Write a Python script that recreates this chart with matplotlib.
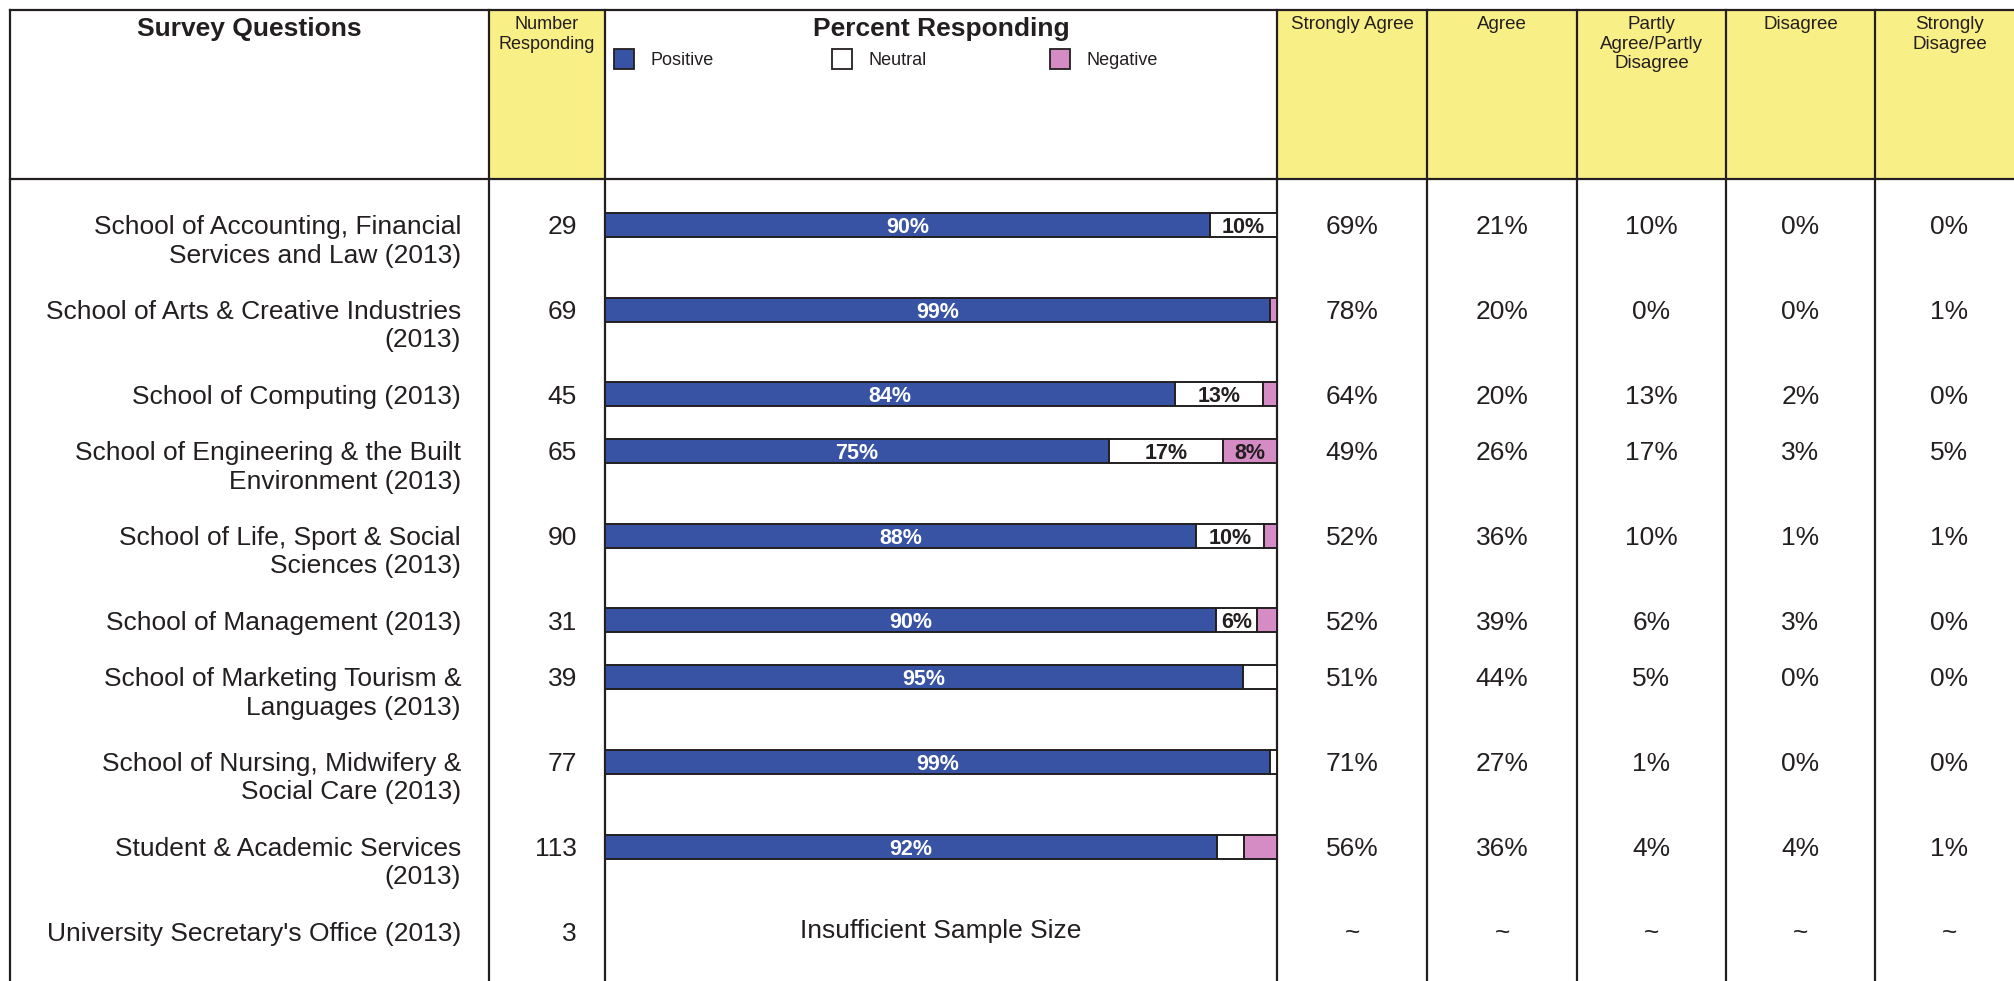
import matplotlib.pyplot as plt
from matplotlib.patches import Rectangle

# Survey results per unit
units = [
    "School of Accounting, Financial\nServices and Law (2013)",
    "School of Arts & Creative Industries\n(2013)",
    "School of Computing (2013)",
    "School of Engineering & the Built\nEnvironment (2013)",
    "School of Life, Sport & Social\nSciences (2013)",
    "School of Management (2013)",
    "School of Marketing Tourism &\nLanguages (2013)",
    "School of Nursing, Midwifery &\nSocial Care (2013)",
    "Student & Academic Services\n(2013)",
    "University Secretary's Office (2013)",
]
respondents = [29, 69, 45, 65, 90, 31, 39, 77, 113, 3]
positive = [90, 99, 84, 75, 88, 90, 95, 99, 92, None]
neutral = [10, 0, 13, 17, 10, 6, 5, 1, 4, None]
negative = [0, 1, 2, 8, 2, 3, 0, 0, 5, None]

strongly_agree = [69, 78, 64, 49, 52, 52, 51, 71, 56, None]
agree = [21, 20, 20, 26, 36, 39, 44, 27, 36, None]
partly = [10, 0, 13, 17, 10, 6, 5, 1, 4, None]
disagree = [0, 0, 2, 3, 1, 3, 0, 0, 4, None]
strongly_disagree = [0, 1, 0, 5, 1, 0, 0, 0, 1, None]

answer_headers = ["Strongly Agree", "Agree", "Partly\nAgree/Partly\nDisagree",
                  "Disagree", "Strongly\nDisagree"]
answer_cols = [strongly_agree, agree, partly, disagree, strongly_disagree]

W, H = 2014, 981
INK = "#231f20"
YELLOW = "#f9ef87"
BLUE = "#3853a4"
PINK = "#d58bc3"
FONT = ["Liberation Sans", "DejaVu Sans"]

plt.rcParams["font.family"] = FONT
plt.rcParams["text.color"] = INK

fig = plt.figure(figsize=(W / 100, H / 100), dpi=100)
ax = fig.add_axes([0, 0, 1, 1])
ax.set_xlim(0, W)
ax.set_ylim(H, 0)
ax.axis("off")

# column edges (pixels)
x_left, x_num, x_bar, x_sa = 10, 489, 605, 1277
x_ans = [1277, 1427, 1577, 1726, 1875, 2024]
top, head_bot = 10, 178.5

# yellow header cells
for xa, xb in [(x_num, x_bar)] + list(zip(x_ans[:-1], x_ans[1:])):
    ax.add_patch(Rectangle((xa, top), xb - xa, head_bot - top,
                           facecolor=YELLOW, edgecolor="none", zorder=0))

lw = 1.6
for x in [x_left, x_num, x_bar] + x_ans[:-1]:
    ax.plot([x, x], [top, H], color=INK, lw=lw, zorder=3)
for y in [top, head_bot]:
    ax.plot([x_left, W], [y, y], color=INK, lw=lw, zorder=3)

# header texts
ax.text((x_left + x_num) / 2, 17, "Survey Questions", ha="center", va="top",
        fontsize=19, fontweight="bold")
ax.text((x_bar + x_sa) / 2, 17, "Percent Responding", ha="center", va="top",
        fontsize=19, fontweight="bold")
ax.text((x_num + x_bar) / 2, 16, "Number\nResponding", ha="center", va="top",
        fontsize=13, linespacing=1.2)
for i, h in enumerate(answer_headers):
    ax.text((x_ans[i] + x_ans[i + 1]) / 2, 16, h, ha="center", va="top",
            fontsize=13.5, linespacing=1.2)

# legend
for sx, tx, col, name in [(614, 650, BLUE, "Positive"),
                          (832, 868, "white", "Neutral"),
                          (1050, 1087, PINK, "Negative")]:
    ax.add_patch(Rectangle((sx, 49), 20, 20, facecolor=col, edgecolor=INK,
                           lw=1.3, zorder=4))
    ax.text(tx, 65, name, ha="left", va="baseline", fontsize=13)

# row centres from the number of label lines
line_step = 28.26
row_y = []
y = 224.8
for u in units:
    row_y.append(y)
    y += (u.count("\n") + 2) * line_step

base_off = 9.5
for i, (u, yc) in enumerate(zip(units, row_y)):
    for k, line in enumerate(u.split("\n")):
        ax.text(461, yc + base_off + k * line_step, line, ha="right",
                va="baseline", fontsize=19)
    ax.text(577, yc + base_off, str(respondents[i]), ha="right",
            va="baseline", fontsize=19)
    for j, col in enumerate(answer_cols):
        cx = (x_ans[j] + x_ans[j + 1]) / 2
        if col[i] is None:
            ax.text(cx, yc + 2, "~", ha="center", va="center", fontsize=19)
        else:
            ax.text(cx, yc + base_off, f"{col[i]}%", ha="center",
                    va="baseline", fontsize=19)

# stacked percentage bars
bx = fig.add_axes([x_bar / W, 0, (x_sa - x_bar) / W, 1])
bx.set_xlim(0, 100)
bx.set_ylim(H, 0)
bx.axis("off")
bar_h = 24
for i, yc in enumerate(row_y):
    if positive[i] is None:
        bx.text(50, yc, "Insufficient Sample Size", ha="center", va="center",
                fontsize=19)
        continue
    vals = [positive[i], neutral[i], negative[i]]
    total = sum(vals)
    left = 0
    for v, c in zip(vals, [BLUE, "white", PINK]):
        w = v / total * 100
        if w > 0:
            bx.barh(yc, w, left=left, height=bar_h, color=c, edgecolor=INK,
                    lw=1.4, zorder=2)
        if c == BLUE:
            bx.text(left + w / 2, yc + 8, f"{v}%", ha="center",
                    va="baseline", color="white", fontsize=15.5,
                    fontweight="bold", zorder=3)
        elif v >= 6:
            bx.text(left + w / 2, yc + 8, f"{v}%", ha="center",
                    va="baseline", color=INK, fontsize=15.5,
                    fontweight="bold", zorder=3)
        left += w

fig.savefig("out.png", dpi=100)
